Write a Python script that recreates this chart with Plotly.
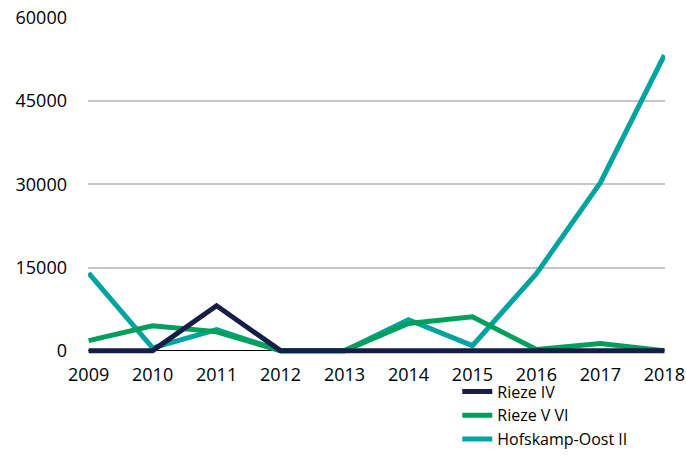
import plotly.graph_objects as go

years = [2009, 2010, 2011, 2012, 2013, 2014, 2015, 2016, 2017, 2018]
rieze_iv = [0, 0, 8100, 0, 0, 0, 0, 0, 0, 0]
rieze_v_vi = [1800, 4500, 3400, 0, 0, 4900, 6100, 200, 1300, 0]
hofskamp = [14000, 500, 3800, 0, 0, 5600, 900, 13900, 30300, 53300]
y_ticks = [0, 15000, 30000, 45000, 60000]
y_tick_labels = ["0", "15000", "30000", "45000", "60000"]
x_tick_labels = [str(y) for y in years]

font = "'Open Sans', sans-serif"

fig = go.Figure()
fig.add_trace(go.Scatter(x=years, y=hofskamp, name="Hofskamp-Oost II", mode="lines",
                         line=dict(color="#00a39e", width=5)))
fig.add_trace(go.Scatter(x=years, y=rieze_v_vi, name="Rieze V VI", mode="lines",
                         line=dict(color="#00a05c", width=5)))
fig.add_trace(go.Scatter(x=years, y=rieze_iv, name="Rieze IV", mode="lines",
                         line=dict(color="#141e46", width=5)))

fig.update_layout(
    width=686, height=458,
    margin=dict(l=88, r=21, t=18, b=104, autoexpand=False),
    plot_bgcolor="white", paper_bgcolor="white",
    font=dict(family=font, size=18, color="black"),
    showlegend=True,
    legend=dict(x=0.64, y=-0.305, xanchor="left", yanchor="bottom",
                bgcolor="rgba(0,0,0,0)",
                traceorder="reversed", font=dict(size=16),
                tracegroupgap=0, itemwidth=30),
    xaxis=dict(range=[2008.99, 2018.01], tickvals=years, ticktext=x_tick_labels,
               showgrid=False, automargin=False, ticklabeloverflow="allow",
               ticklabelstandoff=8,
               zeroline=False, showline=False, ticks="", tickfont=dict(size=18)),
    yaxis=dict(range=[-600, 60000], tickvals=y_ticks, ticktext=y_tick_labels,
               showgrid=True, automargin=False, ticklabeloverflow="allow",
               gridcolor="#c6c6c6", gridwidth=2, zeroline=True, zerolinecolor="black",
               zerolinewidth=1, showline=False, ticks="", ticklabelstandoff=20,
               tickfont=dict(size=18)),
)

fig.write_html("out.html", config={"displayModeBar": False},
               post_script="document.body.style.margin='0';document.body.style.overflow='hidden';")
